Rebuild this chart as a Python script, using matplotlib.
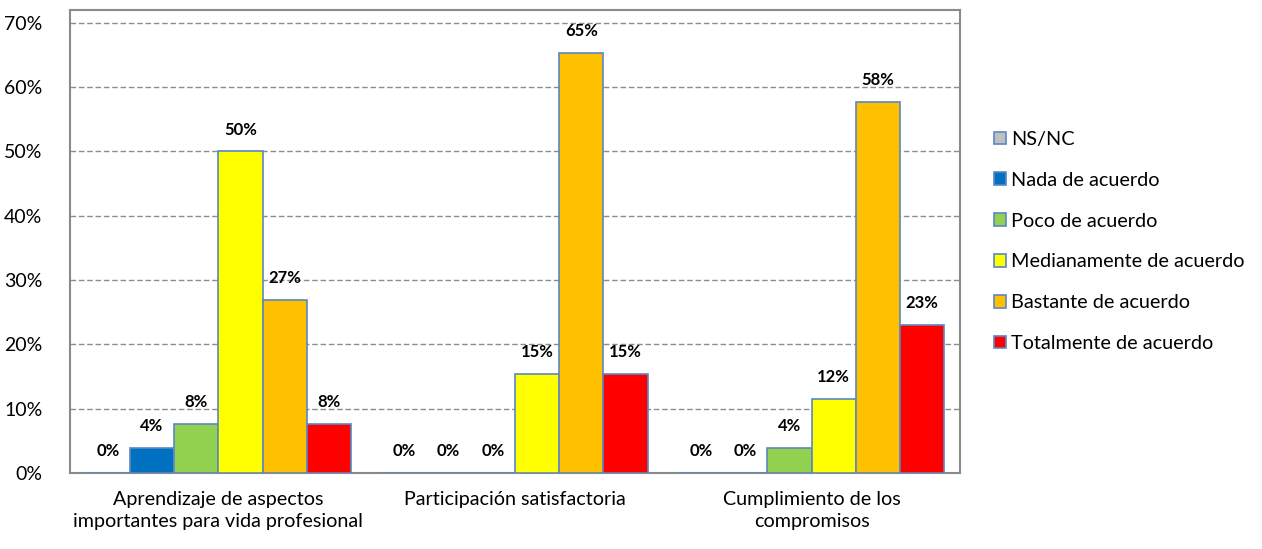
import matplotlib
matplotlib.use("Agg")
import matplotlib.pyplot as plt
import numpy as np
from matplotlib.ticker import PercentFormatter

# categories and series
categorias = ["Aprendizaje de aspectos\nimportantes para vida profesional",
              "Participación satisfactoria",
              "Cumplimiento de los\ncompromisos"]
series = ["NS/NC", "Nada de acuerdo", "Poco de acuerdo",
          "Medianamente de acuerdo", "Bastante de acuerdo", "Totalmente de acuerdo"]
ns_nc = [0.0, 0.0, 0.0]
nada = [3.85, 0.0, 0.0]
poco = [7.69, 0.0, 3.85]
mediana = [50.0, 15.38, 11.54]
bastante = [26.92, 65.38, 57.69]
totalmente = [7.69, 15.38, 23.08]
colores = ["#C0C0C0", "#0070C0", "#92D050", "#FFFF00", "#FFC000", "#FF0000"]

plt.rcParams['font.family'] = ['Lato', 'DejaVu Sans']

fig = plt.figure(figsize=(12.62, 5.49), dpi=100)
ax = fig.add_axes([70/1262, 76/549, 890/1262, 463/549])

valores = [ns_nc, nada, poco, mediana, bastante, totalmente]
x = np.arange(len(categorias))
w = 0.149
for i, (nombre, vals, c) in enumerate(zip(series, valores, colores)):
    pos = x + (i - 2.5) * w
    bars = ax.bar(pos, vals, w, color=c, edgecolor="#5A87C5", linewidth=1.2,
                  label=nombre, zorder=3)
    for b, v in zip(bars, vals):
        ax.annotate(f"{v:.0f}%", (b.get_x() + b.get_width()/2, v),
                    xytext=(0, 10), textcoords="offset points",
                    ha="center", va="bottom", fontsize=12, fontweight="bold")

ax.set_xlim(-0.5, 2.5)
ax.set_ylim(0, 72)
ax.set_yticks(np.arange(0, 71, 10))
ax.yaxis.set_major_formatter(PercentFormatter(decimals=0))
ax.yaxis.grid(True, linestyle=(0, (4, 2)), color="#8C8C8C", linewidth=1, zorder=0)
ax.set_xticks(x)
ax.set_xticklabels(categorias, fontsize=14.2, linespacing=1.32)
ax.tick_params(axis="x", length=0, pad=13)
ax.tick_params(axis="y", length=0, labelsize=14, pad=20)
for s in ax.spines.values():
    s.set_color("#8A8A8A")
    s.set_linewidth(1.5)

leg = ax.legend(loc="center left", bbox_to_anchor=(1.018, 0.5), frameon=False,
                fontsize=14.3, handlelength=0.6, handleheight=0.6,
                handletextpad=0.25, labelspacing=1.2)

fig.savefig("out.png", dpi=100)
